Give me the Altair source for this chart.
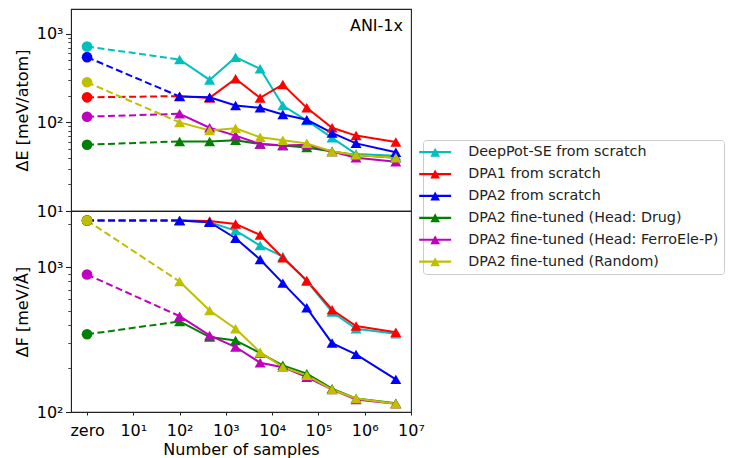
import altair as alt
import pandas as pd

# ---------------- data ----------------
series = [
    "DeepPot-SE from scratch",
    "DPA1 from scratch",
    "DPA2 from scratch",
    "DPA2 fine-tuned (Head: Drug)",
    "DPA2 fine-tuned (Head: FerroEle-P)",
    "DPA2 fine-tuned (Random)",
]
colors = ["#00bfbf", "#ff0000", "#0000ff", "#008000", "#bf00bf", "#bfbf00"]

zero_pos = 1  # where the "zero" sample count is drawn on the log axis
samples = [100, 445, 1620, 5500, 17000, 56000, 197000, 650000, 4700000]

# Energy error [meV/atom]
e_zero = [719, 192, 545, 56, 116, 284]
e_deeppot = [513, 302, 545, 403, 155, 105, 67, 44, 42]
e_dpa1 = [198, 189, 311, 189, 268, 146, 87, 71, 60]
e_dpa2 = [196, 192, 155, 146, 123, 107, 76, 58, 46]
e_drug = [61, 61, 63, 57, 55, 52, 47, 43, 40]
e_ferro = [125, 87, 71, 57, 55, 56, 47, 40, 36]
e_random = [100, 81, 86, 68, 63, 58, 47, 43, 40]

# Force error [meV/A]
f_zero = [2100, 2100, 2100, 344, 890, 2100]
f_deeppot = [2100, 2045, 1790, 1410, 1185, 800, 490, 376, 347]
f_dpa1 = [2100, 2080, 1990, 1670, 1160, 809, 508, 392, 356]
f_dpa2 = [2100, 2045, 1585, 1130, 776, 524, 299, 250, 168]
f_drug = [422, 329, 312, 255, 210, 184, 145, 124, 115]
f_ferro = [459, 338, 281, 219, 204, 174, 143, 122, 114]
f_random = [796, 502, 376, 259, 204, 179, 143, 124, 114]

x_ticks = [1, 10, 100, 1000, 10000, 100000, 1000000, 10000000]
e_ticks = [10, 20, 30, 40, 50, 60, 70, 80, 90, 100, 200, 300, 400, 500, 600, 700, 800, 900, 1000]
f_ticks = [100, 200, 300, 400, 500, 600, 700, 800, 900, 1000, 2000]
x_domain = [0.45, 1e7]
e_domain = [10, 1906]
f_domain = [100, 2443]


def frames(zero_vals, curves):
    dash, solid, zero = [], [], []
    for i, (name, z, vals) in enumerate(zip(series, zero_vals, curves)):
        zero.append({"series": name, "x": zero_pos, "v": z, "o": i})
        dash.append({"series": name, "x": zero_pos, "v": z, "o": i})
        dash.append({"series": name, "x": samples[0], "v": vals[0], "o": i})
        for s, v in zip(samples, vals):
            solid.append({"series": name, "x": s, "v": v, "o": i})
    return pd.DataFrame(dash), pd.DataFrame(solid), pd.DataFrame(zero)


e_frames = frames(e_zero, [e_deeppot, e_dpa1, e_dpa2, e_drug, e_ferro, e_random])
f_frames = frames(f_zero, [f_deeppot, f_dpa1, f_dpa2, f_drug, f_ferro, f_random])

SUP = "['⁰','¹','²','³','⁴','⁵','⁶','⁷']"
IS_MAJOR = "abs(log(datum.value)/LN10 - round(log(datum.value)/LN10)) < 0.001"
FONT = "DejaVu Sans"

color_scale = alt.Scale(domain=series, range=colors)
index_scale = alt.Scale(domain=list(range(len(series))), range=colors)
legend_spec = alt.Legend(
    title=None,
    orient="none",
    legendX=352,
    legendY=131,
    symbolType="M-3.2,-0.22H3.2V0.22H-3.2Z M0,-0.9L0.96,0.9L-0.96,0.9Z",
    symbolSize=100,
    symbolStrokeWidth=0,
    symbolOpacity=1,
    labelFont=FONT,
    labelFontSize=14.3,
    labelColor="#222222",
    labelOffset=26,
    labelLimit=400,
    rowPadding=6.9,
    padding=5,
    strokeColor="#cccccc",
    fillColor="white",
    cornerRadius=3,
)


def panel(fr, ytitle, ydomain, yticks, show_x, label=None):
    dash_df, solid_df, zero_df = fr
    x_axis = None
    if show_x:
        x_axis = alt.Axis(
            values=x_ticks,
            labelExpr="datum.value == 1 ? 'zero' : '10' + " + SUP + "[round(log(datum.value)/LN10)]",
            title="Number of samples",
            titleFontSize=16,
            titleFont=FONT,
            titleFontWeight="normal",
            titlePadding=3,
            labelFontSize=16,
            labelFont=FONT,
            labelPadding=7,
            labelFlush=False,
            labelOverlap=False,
            tickSize=3,
            tickColor="#222222",
            domainColor="#222222",
            labelColor="black",
            titleColor="black",
            grid=False,
        )
    x_enc = alt.X("x:Q", scale=alt.Scale(type="log", domain=x_domain, nice=False), axis=x_axis)
    y_axis = alt.Axis(
        values=yticks,
        labelExpr=f"({IS_MAJOR}) ? '10' + {SUP}[round(log(datum.value)/LN10)] : ''",
        title=ytitle,
        titleFontSize=16,
        titleFont=FONT,
        titleFontWeight="normal",
        titlePadding=6,
        labelFontSize=16,
        labelFont=FONT,
        labelPadding=2.5,
        labelOverlap=False,
        tickSize={"condition": {"test": IS_MAJOR, "value": 5.5}, "value": 3.3},
        tickWidth={"condition": {"test": IS_MAJOR, "value": 1.1}, "value": 0.8},
        tickColor="#222222",
        domainColor="#222222",
        labelColor="black",
        titleColor="black",
        grid=False,
    )
    y_enc = alt.Y("v:Q", scale=alt.Scale(type="log", domain=ydomain, nice=False), axis=y_axis)
    stroke_enc = alt.Stroke("o:N", scale=index_scale, legend=None)

    dash = alt.Chart(dash_df).mark_line(strokeDash=[7, 3.5], strokeWidth=2, clip=True).encode(
        x=x_enc, y=y_enc, stroke=stroke_enc, detail="o:O"
    )
    zero = alt.Chart(zero_df).mark_point(
        shape="circle", filled=True, size=113, opacity=1
    ).encode(
        x=x_enc, y=y_enc,
        fill=alt.Fill("o:N", scale=index_scale, legend=None),
        order="o:Q",
    )
    solid = alt.Chart(solid_df).mark_line(strokeWidth=2, clip=True).encode(
        x=x_enc, y=y_enc, stroke=stroke_enc, detail="o:O"
    )
    tri = alt.Chart(solid_df).mark_point(
        shape="triangle-up", filled=True, size=120, opacity=1
    ).encode(
        x=x_enc, y=y_enc,
        color=alt.Color("series:N", scale=color_scale, legend=legend_spec),
        order="o:Q",
    )
    layers = [dash, zero, solid, tri]
    if label:
        txt = alt.Chart(pd.DataFrame({"t": [label]})).mark_text(
            align="right", baseline="middle", fontSize=16, font=FONT, color="black"
        ).encode(text="t:N", x=alt.value(332), y=alt.value(17))
        layers.append(txt)
    return alt.layer(*layers)


top = panel(e_frames, "ΔE [meV/atom]", e_domain, e_ticks, False, "ANI-1x").properties(width=340, height=202)
bottom = panel(f_frames, "ΔF [meV/Å]", f_domain, f_ticks, True).properties(width=340, height=201)

chart = (
    alt.vconcat(top, bottom, spacing=0, bounds="flush")
    .resolve_scale(y="independent")
    .properties(padding={"top": 0, "left": 5, "right": 0, "bottom": 0}, background="white")
    .configure(font=FONT)
    .configure_view(stroke="#222222", strokeWidth=1.1)
)

chart.save("out.html", embed_options={"renderer": "svg", "actions": False})
